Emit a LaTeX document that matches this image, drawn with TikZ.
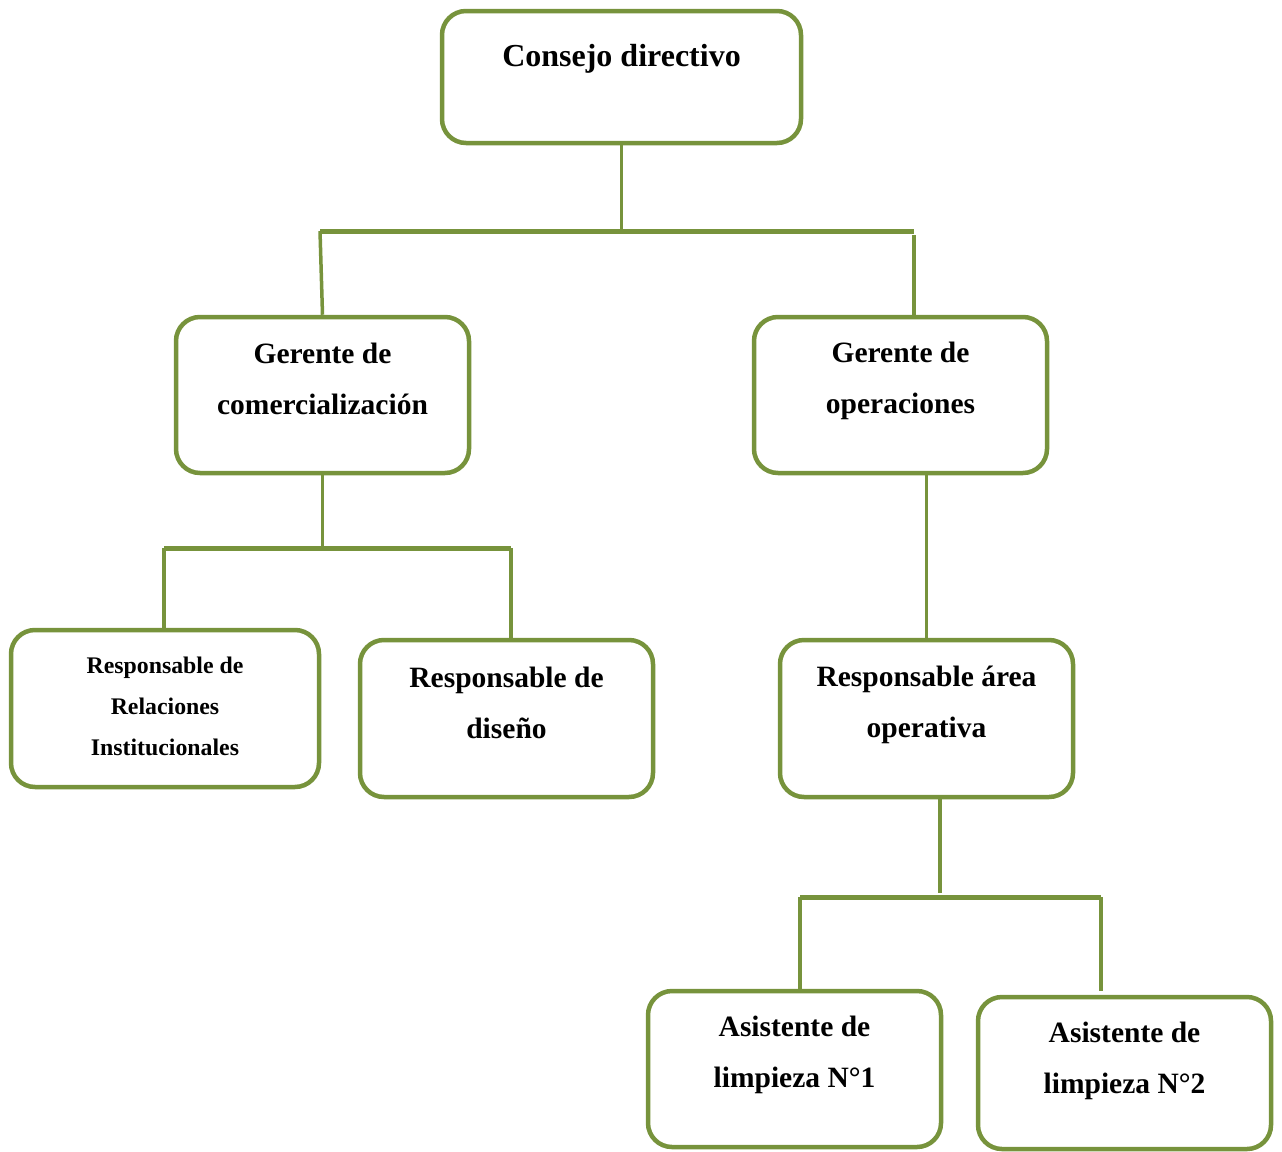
\documentclass[tikz,border=0pt]{standalone}
\usepackage{fontspec}
\setmainfont{Liberation Serif}
\usepackage{tikz}
\usetikzlibrary{calc}
\definecolor{oliva}{HTML}{77933C}

\begin{document}
\begin{tikzpicture}[x=1pt, y=-1pt,
    caja/.style={draw=oliva, line width=4.5pt, rounded corners=24pt, inner sep=0pt, minimum height=156pt},
    txt/.style={align=center, font=\fontsize{29.5}{51}\selectfont\bfseries},
    txtp/.style={align=center, font=\fontsize{23.8}{41}\selectfont\bfseries},
    linea/.style={draw=oliva, line width=3.5pt},
    barra/.style={draw=oliva, line width=5pt}]
    \useasboundingbox (0,0) rectangle (1282,1151);

    \node[caja, minimum width=359pt, minimum height=132pt] (cd) at (621.5,77) {};
    \node[txt, font=\fontsize{32}{51}\selectfont\bfseries] (cd-t) at (621.5,59) {Consejo directivo};

    \node[caja, minimum width=293pt] (gc) at (322.5,395) {};
    \node[txt] (gc-t) at (322.5,379) {Gerente de\\comercialización};
    \node[caja, minimum width=293pt] (go) at (900.5,395) {};
    \node[txt] (go-t) at (900.5,381) {Gerente de\\operaciones};

    \node[caja, minimum width=308pt, minimum height=157pt] (rr) at (165,708.5) {};
    \node[txtp] (rr-t) at (165,706) {Responsable de\\Relaciones\\Institucionales};
    \node[caja, minimum width=293pt, minimum height=157pt] (rd) at (506.5,718.5) {};
    \node[txt] (rd-t) at (506.5,703) {Responsable de\\diseño};
    \node[caja, minimum width=293pt, minimum height=157pt] (ra) at (926.5,718.5) {};
    \node[txt] (ra-t) at (926.5,705) {Responsable área\\operativa};

    \node[caja, minimum width=293pt] (a1) at (794.5,1069) {};
    \node[txt] (a1-t) at (794.5,1055) {Asistente de\\limpieza N°1};
    \node[caja, minimum width=293pt, minimum height=152pt] (a2) at (1124.5,1073) {};
    \node[txt] (a2-t) at (1124.5,1061) {Asistente de\\limpieza N°2};

    % ramas
    \coordinate (b1l) at (320,231);
    \coordinate (b1r) at (914,231);
    \draw[linea] (cd.south) -- (cd.south |- b1l);
    \draw[barra] (b1l) -- (b1r);
    \draw[linea] (b1l) -- (gc.north);
    \draw[linea] ($(b1r)+(0,4)$) -- (b1r |- go.north);

    \coordinate (b2l) at (164,548);
    \coordinate (b2r) at (511,548);
    \draw[linea] (gc.south) -- (gc.south |- b2l);
    \draw[barra] (b2l) -- (b2r);
    \draw[linea] (b2l) -- (b2l |- rr.north);
    \draw[linea] (b2r) -- (b2r |- rd.north);

    \draw[linea] (ra.north |- go.south) -- (ra.north);

    \coordinate (b3m) at (940,893);
    \coordinate (b3l) at (800,897);
    \coordinate (b3r) at (1101,897);
    \coordinate (b3re) at (1101,991);
    \draw[linea] (ra.south -| b3m) -- (b3m);
    \draw[barra] (b3l) -- (b3r);
    \draw[linea] (b3l) -- (b3l |- a1.north);
    \draw[linea] (b3r) -- (b3re);
\end{tikzpicture}
\end{document}
